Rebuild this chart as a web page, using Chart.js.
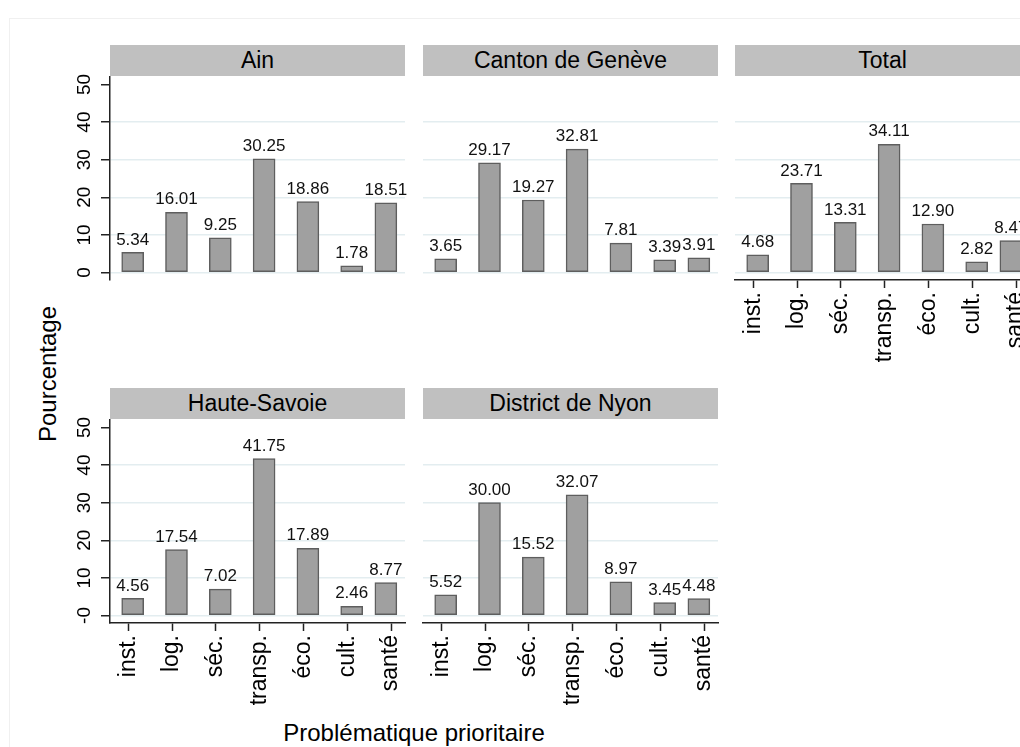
<!DOCTYPE html>
<html>
<head>
<meta charset="utf-8">
<script src="https://cdn.jsdelivr.net/npm/chart.js@4/dist/chart.umd.min.js"></script>
<style>
  html, body { margin: 0; padding: 0; background: #fff; width: 1020px; height: 747px; overflow: hidden;
    font-family: "Liberation Sans", Arial, sans-serif; }
  .frame { position: absolute; left: 9px; top: 18px; width: 1100px; height: 800px;
    border-top: 1px solid #f0f0f0; border-left: 1px solid #f0f0f0; }
  canvas { position: absolute; }
  .hdr { position: absolute; width: 295px; height: 31px; line-height: 31px; background: #c0c0c0;
    color: #000; font-size: 23px; text-align: center; white-space: nowrap; overflow: hidden; }
  .title { position: absolute; color: #000; font-size: 24px; white-space: nowrap; }
</style>
</head>
<body>
<div class="frame"></div>
<div class="title" id="ytitle" style="left:48px; top:374px; transform: translate(-50%, -50%) rotate(-90deg);">Pourcentage</div>
<div class="title" id="xtitle" style="left:414px; top:733px; transform: translate(-50%, -50%);">Problématique prioritaire</div>

<script>
// categories and where each bar sits on the x axis (santé sits a bit left in the original)
const categories = ['inst.', 'log.', 'séc.', 'transp.', 'éco.', 'cult.', 'santé']
const barX       = [1.1, 2.1, 3.1, 4.1, 5.1, 6.1, 6.88]

// percentages per area
const ain         = [5.34, 16.01, 9.25, 30.25, 18.86, 1.78, 18.51]
const geneve      = [3.65, 29.17, 19.27, 32.81, 7.81, 3.39, 3.91]
const total       = [4.68, 23.71, 13.31, 34.11, 12.90, 2.82, 8.47]
const hauteSavoie = [4.56, 17.54, 7.02, 41.75, 17.89, 2.46, 8.77]
const nyon        = [5.52, 30.00, 15.52, 32.07, 8.97, 3.45, 4.48]

const panelTitles = ['Ain', 'Canton de Genève', 'Total', 'Haute-Savoie', 'District de Nyon']

// y ticks
const yTickValues  = [0, 10, 20, 30, 40, 50]
const yTicksTop    = ['0', '10', '20', '30', '40', '50']
const yTicksBottom = ['-0', '10', '20', '30', '40', '50']

const FONT = '"Liberation Sans", Arial, sans-serif'
const AXIS = '#222'
const PAD_L = 60     // room left of the plot for the y axis
const PAD_T = 20     // room above the plot
const PLOT_W = 295
const PLOT_H = 203
const XAXIS_H = 110

const valueLabels = {
  id: 'valueLabels',
  afterDatasetsDraw(chart) {
    const ctx  = chart.ctx
    const meta = chart.getDatasetMeta(0)
    const data = chart.data.datasets[0].data
    ctx.save()
    ctx.font = '17px ' + FONT
    ctx.fillStyle = '#111'
    ctx.textAlign = 'center'
    ctx.textBaseline = 'bottom'
    meta.data.forEach((bar, i) => {
      ctx.fillText(data[i].y.toFixed(2), bar.x, bar.y - 4)
    })
    ctx.restore()
  }
}

// y tick labels are rotated in the original, chart.js can't rotate them on a vertical axis
const yLabels = {
  id: 'yLabels',
  afterDraw(chart, args, opts) {
    if (!opts.labels) return
    const ctx = chart.ctx
    const y = chart.scales.y
    ctx.save()
    ctx.font = '19px ' + FONT
    ctx.fillStyle = '#000'
    ctx.textAlign = 'center'
    ctx.textBaseline = 'middle'
    opts.labels.forEach((t, i) => {
      ctx.save()
      ctx.translate(y.right - 25, y.getPixelForValue(yTickValues[i]))
      ctx.rotate(-Math.PI / 2)
      ctx.fillText(t, 0, 0)
      ctx.restore()
    })
    ctx.restore()
  }
}

function makePanel(title, values, left, top, showY, showX, yLabelList) {
  const hdr = document.createElement('div')
  hdr.className = 'hdr'
  hdr.style.left = left + 'px'
  hdr.style.top  = (top - 32) + 'px'
  hdr.textContent = title

  const canvas = document.createElement('canvas')
  canvas.width  = PAD_L + PLOT_W + 20
  canvas.height = PAD_T + PLOT_H + XAXIS_H
  canvas.style.left = (left - PAD_L) + 'px'
  canvas.style.top  = (top - PAD_T) + 'px'
  document.body.appendChild(canvas)
  document.body.appendChild(hdr)

  new Chart(canvas, {
    type: 'bar',
    data: {
      datasets: [{
        data: values.map((v, i) => ({ x: barX[i], y: v })),
        backgroundColor: '#a0a0a0',
        borderColor: '#5e5e5e',
        borderWidth: 1.5,
        barThickness: 22,
        borderSkipped: false
      }]
    },
    options: {
      responsive: false,
      animation: false,
      layout: { padding: { top: PAD_T, left: 0, right: 20, bottom: 0 } },
      plugins: {
        legend: { display: false },
        tooltip: { enabled: false },
        yLabels: { labels: yLabelList }
      },
      scales: {
        x: {
          type: 'linear',
          min: 0.582,
          max: 7.317,
          offset: false,
          afterBuildTicks: s => { s.ticks = categories.map((c, i) => ({ value: i + 1 })) },
          // keep the plot width fixed, rotated labels would otherwise shrink it
          afterFit: s => { s.height = XAXIS_H; s.paddingLeft = 0; s.paddingRight = 0 },
          grid: { offset: false, drawOnChartArea: false, drawTicks: showX, tickLength: 8, tickColor: AXIS, tickWidth: 1.5 },
          border: { display: showX, color: AXIS, width: 1.5 },
          ticks: {
            display: showX, autoSkip: false, minRotation: 90, maxRotation: 90, padding: 4,
            color: '#000', font: { family: FONT, size: 23 },
            callback: (v, i) => categories[i]
          }
        },
        y: {
          min: -2,
          max: 52,
          afterBuildTicks: s => { s.ticks = yTickValues.map(v => ({ value: v })) },
          afterFit: s => { s.width = PAD_L },
          grid: {
            color: c => (c.tick && c.tick.value === 50) ? 'rgba(0,0,0,0)' : '#e3edf0',
            lineWidth: 1.5,
            drawTicks: showY, tickLength: 9, tickColor: AXIS, tickWidth: 1.5
          },
          border: { display: showY, color: AXIS, width: 1.5 },
          ticks: { display: false }
        }
      }
    },
    plugins: [valueLabels, yLabels]
  })
}

makePanel(panelTitles[0], ain,         110,  77, true,  false, yTicksTop)
makePanel(panelTitles[1], geneve,      423,  77, false, false, null)
makePanel(panelTitles[2], total,       735,  77, false, true,  null)
makePanel(panelTitles[3], hauteSavoie, 110, 420, true,  true,  yTicksBottom)
makePanel(panelTitles[4], nyon,        423, 420, false, true,  null)
</script>
</body>
</html>
